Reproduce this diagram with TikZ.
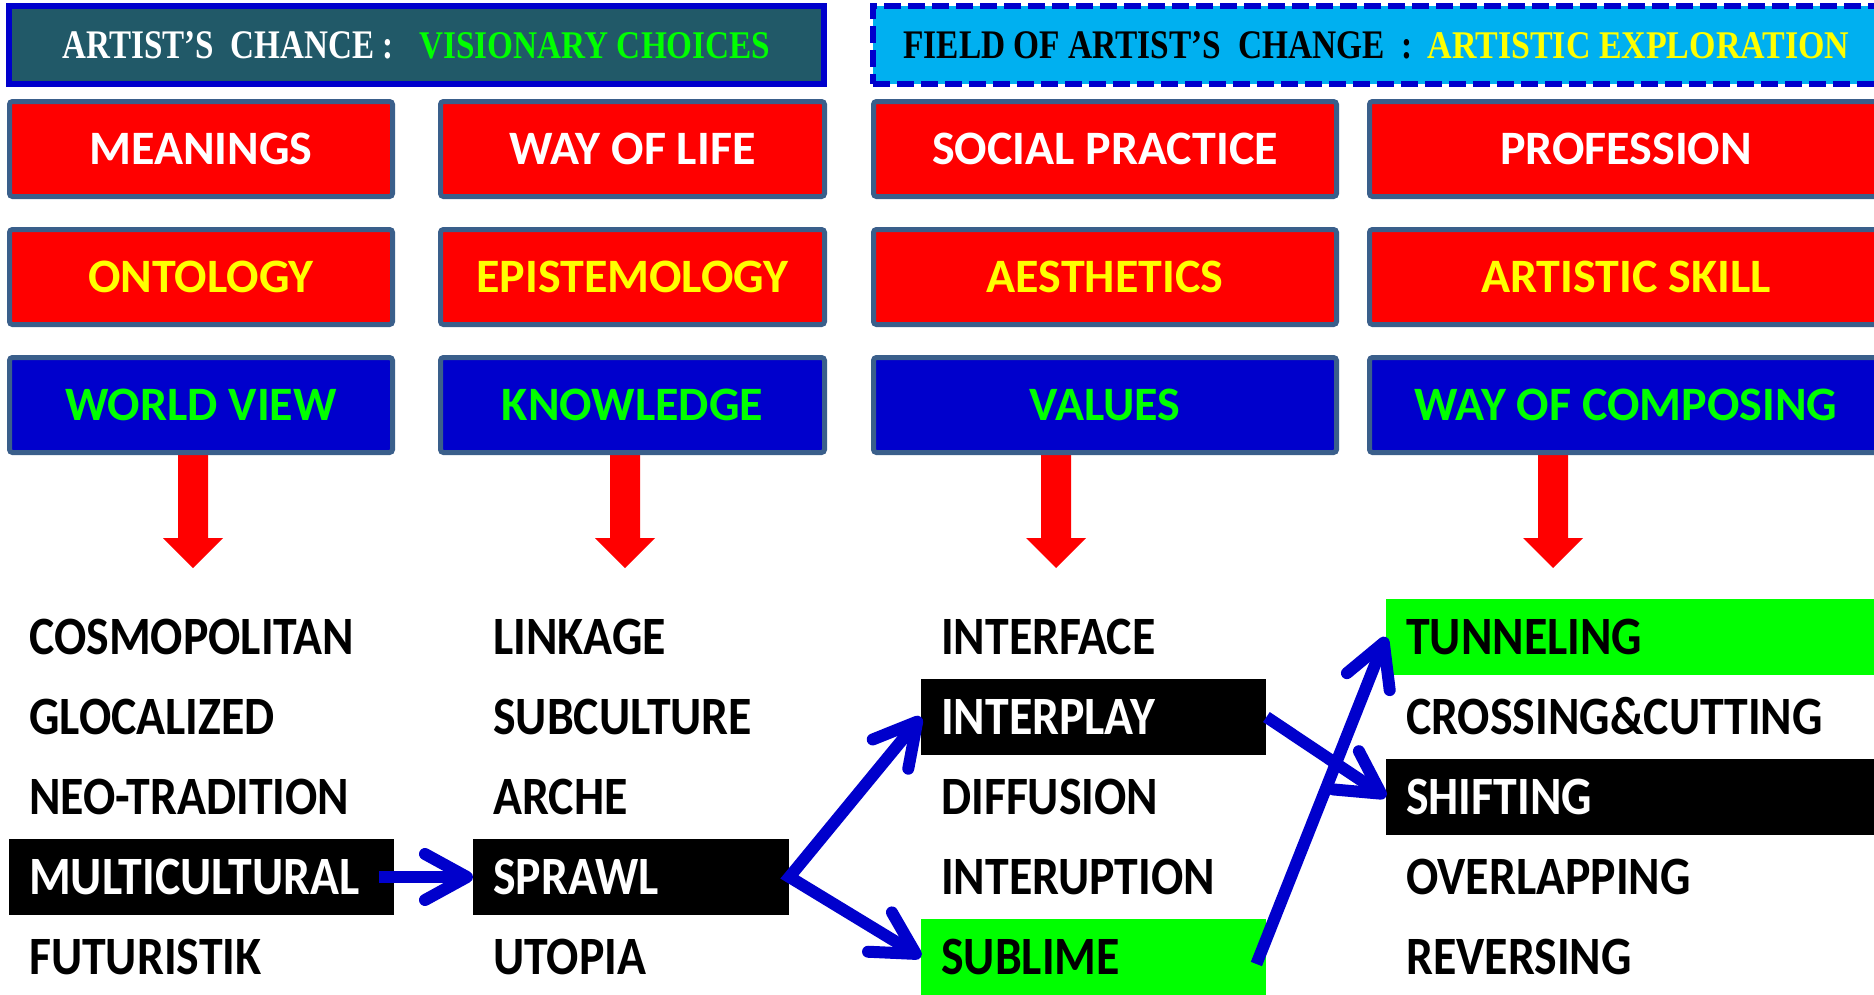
\documentclass[tikz,border=0pt]{standalone}
\usepackage{fontspec}
\usepackage{graphicx}
\setmainfont{Carlito}
\newfontfamily\listfont{Carlito}[FakeStretch=0.885]
\newfontfamily\headfont{Liberation Serif}
\usetikzlibrary{arrows.meta,calc}
\definecolor{hdteal}{HTML}{215968}
\definecolor{hdsky}{HTML}{00B0F0}
\definecolor{bord}{HTML}{0000CC}
\definecolor{edgeblue}{HTML}{3A5F8B}
\definecolor{lgreen}{HTML}{00FF00}
\definecolor{lyellow}{HTML}{FFFF00}
\definecolor{ablue}{HTML}{0000CC}
\lefthyphenmin=64
\tikzset{
  catbox/.style={draw=edgeblue, line width=5pt, rounded corners=3pt, minimum height=95pt,
    inner sep=0pt, font=\bfseries\fontsize{48}{50}\selectfont, text height=30pt, text depth=0pt},
  redbox/.style={catbox, fill=red},
  bluebox/.style={catbox, fill=ablue, text=lgreen},
  item/.style={anchor=west, inner xsep=20pt, inner ysep=0pt, minimum height=76pt, align=left,
    font=\listfont\bfseries\fontsize{54}{60}\selectfont, text height=35pt, text depth=0pt},
  hiblack/.style={fill=black, text=white},
  higreen/.style={fill=lgreen},
  headbox/.style={line width=6pt, minimum height=78pt, inner sep=0pt, font=\headfont\bfseries},
  link/.style={draw=ablue, line width=12pt, line join=miter},
  barbtip/.tip={Straight Barb[length=42pt, width=46pt, round]},
}
\begin{document}
\begin{tikzpicture}[x=1pt,y=-1pt]
\useasboundingbox (0,0) rectangle (1874,994);
\clip (0,0) rectangle (1874,994);

% red block arrows
\foreach \c in {193,625,1056,1553}
  \fill[red] (\c-15,452) -- (\c+15,452) -- (\c+15,538) -- (\c+30,538) -- (\c,568)
     -- (\c-30,538) -- (\c-15,538) -- cycle;

% headers
\node[headbox, draw=bord, fill=hdteal, minimum width=815pt] (h1) at (416.5,45)
  {\resizebox{331pt}{27pt}{\textcolor{white}{ARTIST’S~~CHANCE~:}}\hspace{26pt}\resizebox{351pt}{26pt}{\textcolor{lgreen}{VISIONARY CHOICES}}};
\node[headbox, draw=bord, dash pattern=on 17pt off 7pt, fill=hdsky, minimum width=1007pt] (h2) at (1376.5,45)
  {\resizebox{509pt}{27pt}{\textcolor{black}{FIELD OF ARTIST’S~~CHANGE~~:}}\hspace{15pt}\resizebox{422pt}{26pt}{\textcolor{lyellow}{ARTISTIC EXPLORATION}}};

% category boxes
\node[redbox, text=white, minimum width=383pt] (meanings) at (201,149) {MEANINGS};
\node[redbox, text=white, minimum width=384pt] (wayoflife) at (632.5,149) {WAY OF LIFE};
\node[redbox, text=white, minimum width=463pt] (social) at (1105,149) {SOCIAL PRACTICE};
\node[redbox, text=white, minimum width=513pt] (profession) at (1626,149) {PROFESSION};

\node[redbox, text=lyellow, minimum width=383pt] (ontology) at (201,277) {ONTOLOGY};
\node[redbox, text=lyellow, minimum width=384pt] (episte) at (632.5,277) {EPISTEMOLOGY};
\node[redbox, text=lyellow, minimum width=463pt] (aesth) at (1105,277) {AESTHETICS};
\node[redbox, text=lyellow, minimum width=513pt] (skill) at (1626,277) {ARTISTIC SKILL};

\node[bluebox, minimum width=383pt] (worldview) at (201,405) {WORLD VIEW};
\node[bluebox, minimum width=384pt] (knowledge) at (632.5,405) {KNOWLEDGE};
\node[bluebox, minimum width=463pt] (values) at (1105,405) {VALUES};
\node[bluebox, minimum width=513pt] (composing) at (1626,405) {WAY OF COMPOSING};

% column 1
\node[item, text width=345pt] (cosmo) at (9,637) {COSMOPOLITAN};
\node[item, text width=345pt] (gloc) at (9,717) {GLOCALIZED};
\node[item, text width=345pt] (neo) at (9,797) {NEO-TRADITION};
\node[item, hiblack, text width=345pt] (multi) at (9,877) {MULTICULTURAL};
\node[item, text width=345pt] (futur) at (9,957) {FUTURISTIK};
% column 2
\node[item, text width=276pt] (linkage) at (473,637) {LINKAGE};
\node[item, text width=276pt] (subcult) at (473,717) {SUBCULTURE};
\node[item, text width=276pt] (arche) at (473,797) {ARCHE};
\node[item, hiblack, text width=276pt] (sprawl) at (473,877) {SPRAWL};
\node[item, text width=276pt] (utopia) at (473,957) {UTOPIA};
% column 3
\node[item, text width=305pt] (interface) at (921,637) {INTERFACE};
\node[item, hiblack, text width=305pt] (interplay) at (921,717) {INTERPLAY};
\node[item, text width=305pt] (diffusion) at (921,797) {DIFFUSION};
\node[item, text width=305pt] (interup) at (921,877) {INTERUPTION};
\node[item, higreen, text width=305pt] (sublime) at (921,957) {SUBLIME};
% column 4
\node[item, higreen, text width=470pt] (tunneling) at (1386,637) {TUNNELING};
\node[item, text width=470pt] (crossing) at (1386,717) {CROSSING\&CUTTING};
\node[item, hiblack, text width=470pt] (shifting) at (1386,797) {SHIFTING};
\node[item, text width=470pt] (overlap) at (1386,877) {OVERLAPPING};
\node[item, text width=470pt] (revers) at (1386,957) {REVERSING};

% blue connectors
\draw[link, -barbtip, shorten <=-15pt] (multi.east) -- (sprawl.west);
\draw[link, barbtip-barbtip] (interplay.west) -- (sprawl.east) -- (sublime.west);
\draw[link, -barbtip] (interplay.east) -- (shifting.west);
\draw[link, -barbtip] ($(sublime.east)+(-10,7)$) -- (tunneling.west);
\end{tikzpicture}
\end{document}
